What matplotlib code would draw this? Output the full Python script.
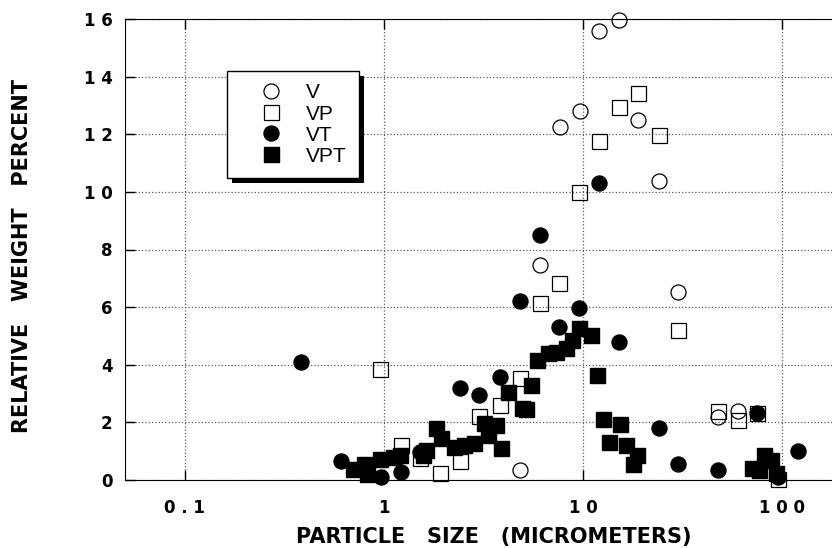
import matplotlib
matplotlib.use('Agg')  # без GUI
import matplotlib.pyplot as plt
import matplotlib.patheffects as pe
from matplotlib.ticker import NullLocator

plt.rcParams['font.family'] = ['Liberation Sans', 'DejaVu Sans']

# V
v_x = [4.82, 6.08, 7.64, 9.62, 12.1, 15.1, 18.97, 24.0, 30.1, 47.5, 60.1]
v_y = [0.35, 7.47, 12.26, 12.79, 15.57, 15.97, 12.49, 10.38, 6.52, 2.2, 2.4]

# VP
vp_x = [0.958, 1.22, 1.52, 1.91, 2.42, 3.0, 3.83, 4.82, 6.08, 7.6, 9.55,
        12.1, 15.2, 19.0, 24.0, 30.1, 47.5, 60.1, 75.3, 95.2]
vp_y = [3.85, 1.22, 0.75, 0.23, 0.65, 2.23, 2.6, 3.53, 6.13, 6.84, 10.01,
        11.75, 12.96, 13.43, 11.97, 5.21, 2.41, 2.08, 2.31, 0.05]

# VT
vt_x = [0.383, 0.608, 0.966, 1.22, 1.52, 2.42, 3.0, 3.83, 4.82, 6.08, 7.6,
        9.55, 12.1, 15.2, 24.0, 30.1, 47.5, 75.3, 95.2, 120]
vt_y = [4.11, 0.67, 0.12, 0.29, 0.96, 3.2, 2.95, 3.57, 6.22, 8.51, 5.30,
        5.98, 10.32, 4.80, 1.82, 0.56, 0.35, 2.32, 0.11, 1.02]

# VPT
vpt_x = [0.70, 0.79, 0.82, 0.955, 1.11, 1.20, 1.57, 1.63, 1.83, 1.93, 2.26,
         2.53, 2.84, 3.19, 3.32, 3.65, 3.87, 4.22, 4.97, 5.2, 5.47, 5.91,
         6.65, 7.31, 8.21, 8.86, 9.55, 10.97, 11.8, 12.6, 13.6, 15.4, 16.4,
         17.8, 18.8, 71.0, 76.7, 81.3, 88.0, 93.0]
vpt_y = [0.38, 0.56, 0.21, 0.73, 0.79, 0.87, 0.87, 1.04, 1.79, 1.45, 1.16,
         1.22, 1.27, 1.97, 1.56, 1.91, 1.10, 3.04, 2.49, 2.45, 3.30, 4.17,
         4.40, 4.45, 4.57, 4.86, 5.27, 5.03, 3.65, 2.11, 1.33, 1.93, 1.22,
         0.56, 0.87, 0.40, 0.35, 0.87, 0.69, 0.23]

x_ticks = [0.1, 1, 10, 100]
x_tick_labels = ['0 . 1', '1', '1 0', '1 0 0']
y_ticks = [0, 2, 4, 6, 8, 10, 12, 14, 16]
y_tick_labels = ['0', '2', '4', '6', '8', '1 0', '1 2', '1 4', '1 6']

bold = dict(family='DejaVu Sans', fontweight='bold')

fig = plt.figure(figsize=(8.32, 5.48), dpi=100)
ax = fig.add_axes([125 / 832, 68 / 548, 716.8 / 832, 461 / 548])

ms = 10.8
ax.plot(v_x, v_y, 'o', mfc='none', mec='black', mew=0.9, ms=ms, ls='none',
        label='V', clip_on=False)
ax.plot(vp_x, vp_y, 's', mfc='none', mec='black', mew=0.9, ms=ms, ls='none',
        label='VP', clip_on=False)
ax.plot(vt_x, vt_y, 'o', color='black', ms=ms, ls='none', label='VT',
        clip_on=False)
ax.plot(vpt_x, vpt_y, 's', color='black', ms=ms, ls='none', label='VPT',
        clip_on=False)

ax.set_xscale('log')
ax.set_xlim(0.05, 200)
ax.set_ylim(0, 16)
ax.set_xticks(x_ticks)
ax.set_xticklabels(x_tick_labels, fontsize=12, **bold)
ax.set_yticks(y_ticks)
ax.set_yticklabels(y_tick_labels, fontsize=12, **bold)
ax.xaxis.set_minor_locator(NullLocator())
ax.tick_params(direction='in', length=7, width=1, top=True, right=False)
ax.tick_params(axis='x', pad=14)
ax.tick_params(axis='y', pad=9)
ax.grid(True, ls=':', color='0.35', lw=0.9)
ax.set_axisbelow(True)
ax.spines['right'].set_visible(False)

fig.text(494 / 832, 1 - 537 / 548, 'PARTICLE   SIZE   (MICROMETERS)',
         ha='center', va='center', fontsize=15, **bold)
fig.text(22 / 832, 1 - 256 / 548, 'RELATIVE   WEIGHT   PERCENT', rotation=90,
         ha='center', va='center', fontsize=15, **bold)

leg = ax.legend(loc='upper left', bbox_to_anchor=(227 / 832, 1 - 71 / 548),
                bbox_transform=fig.transFigure, frameon=True, fancybox=False,
                edgecolor='black', framealpha=1, fontsize=15,
                labelspacing=0.1, handlelength=3.0, handletextpad=0.2,
                borderpad=0.6, borderaxespad=0)
leg.get_frame().set_linewidth(1.0)
leg.get_frame().set_path_effects([
    pe.SimplePatchShadow(offset=(3.6, -3.6), shadow_rgbFace='black', alpha=1),
    pe.Normal()])

fig.savefig('out.png', dpi=100)
plt.close(fig)
